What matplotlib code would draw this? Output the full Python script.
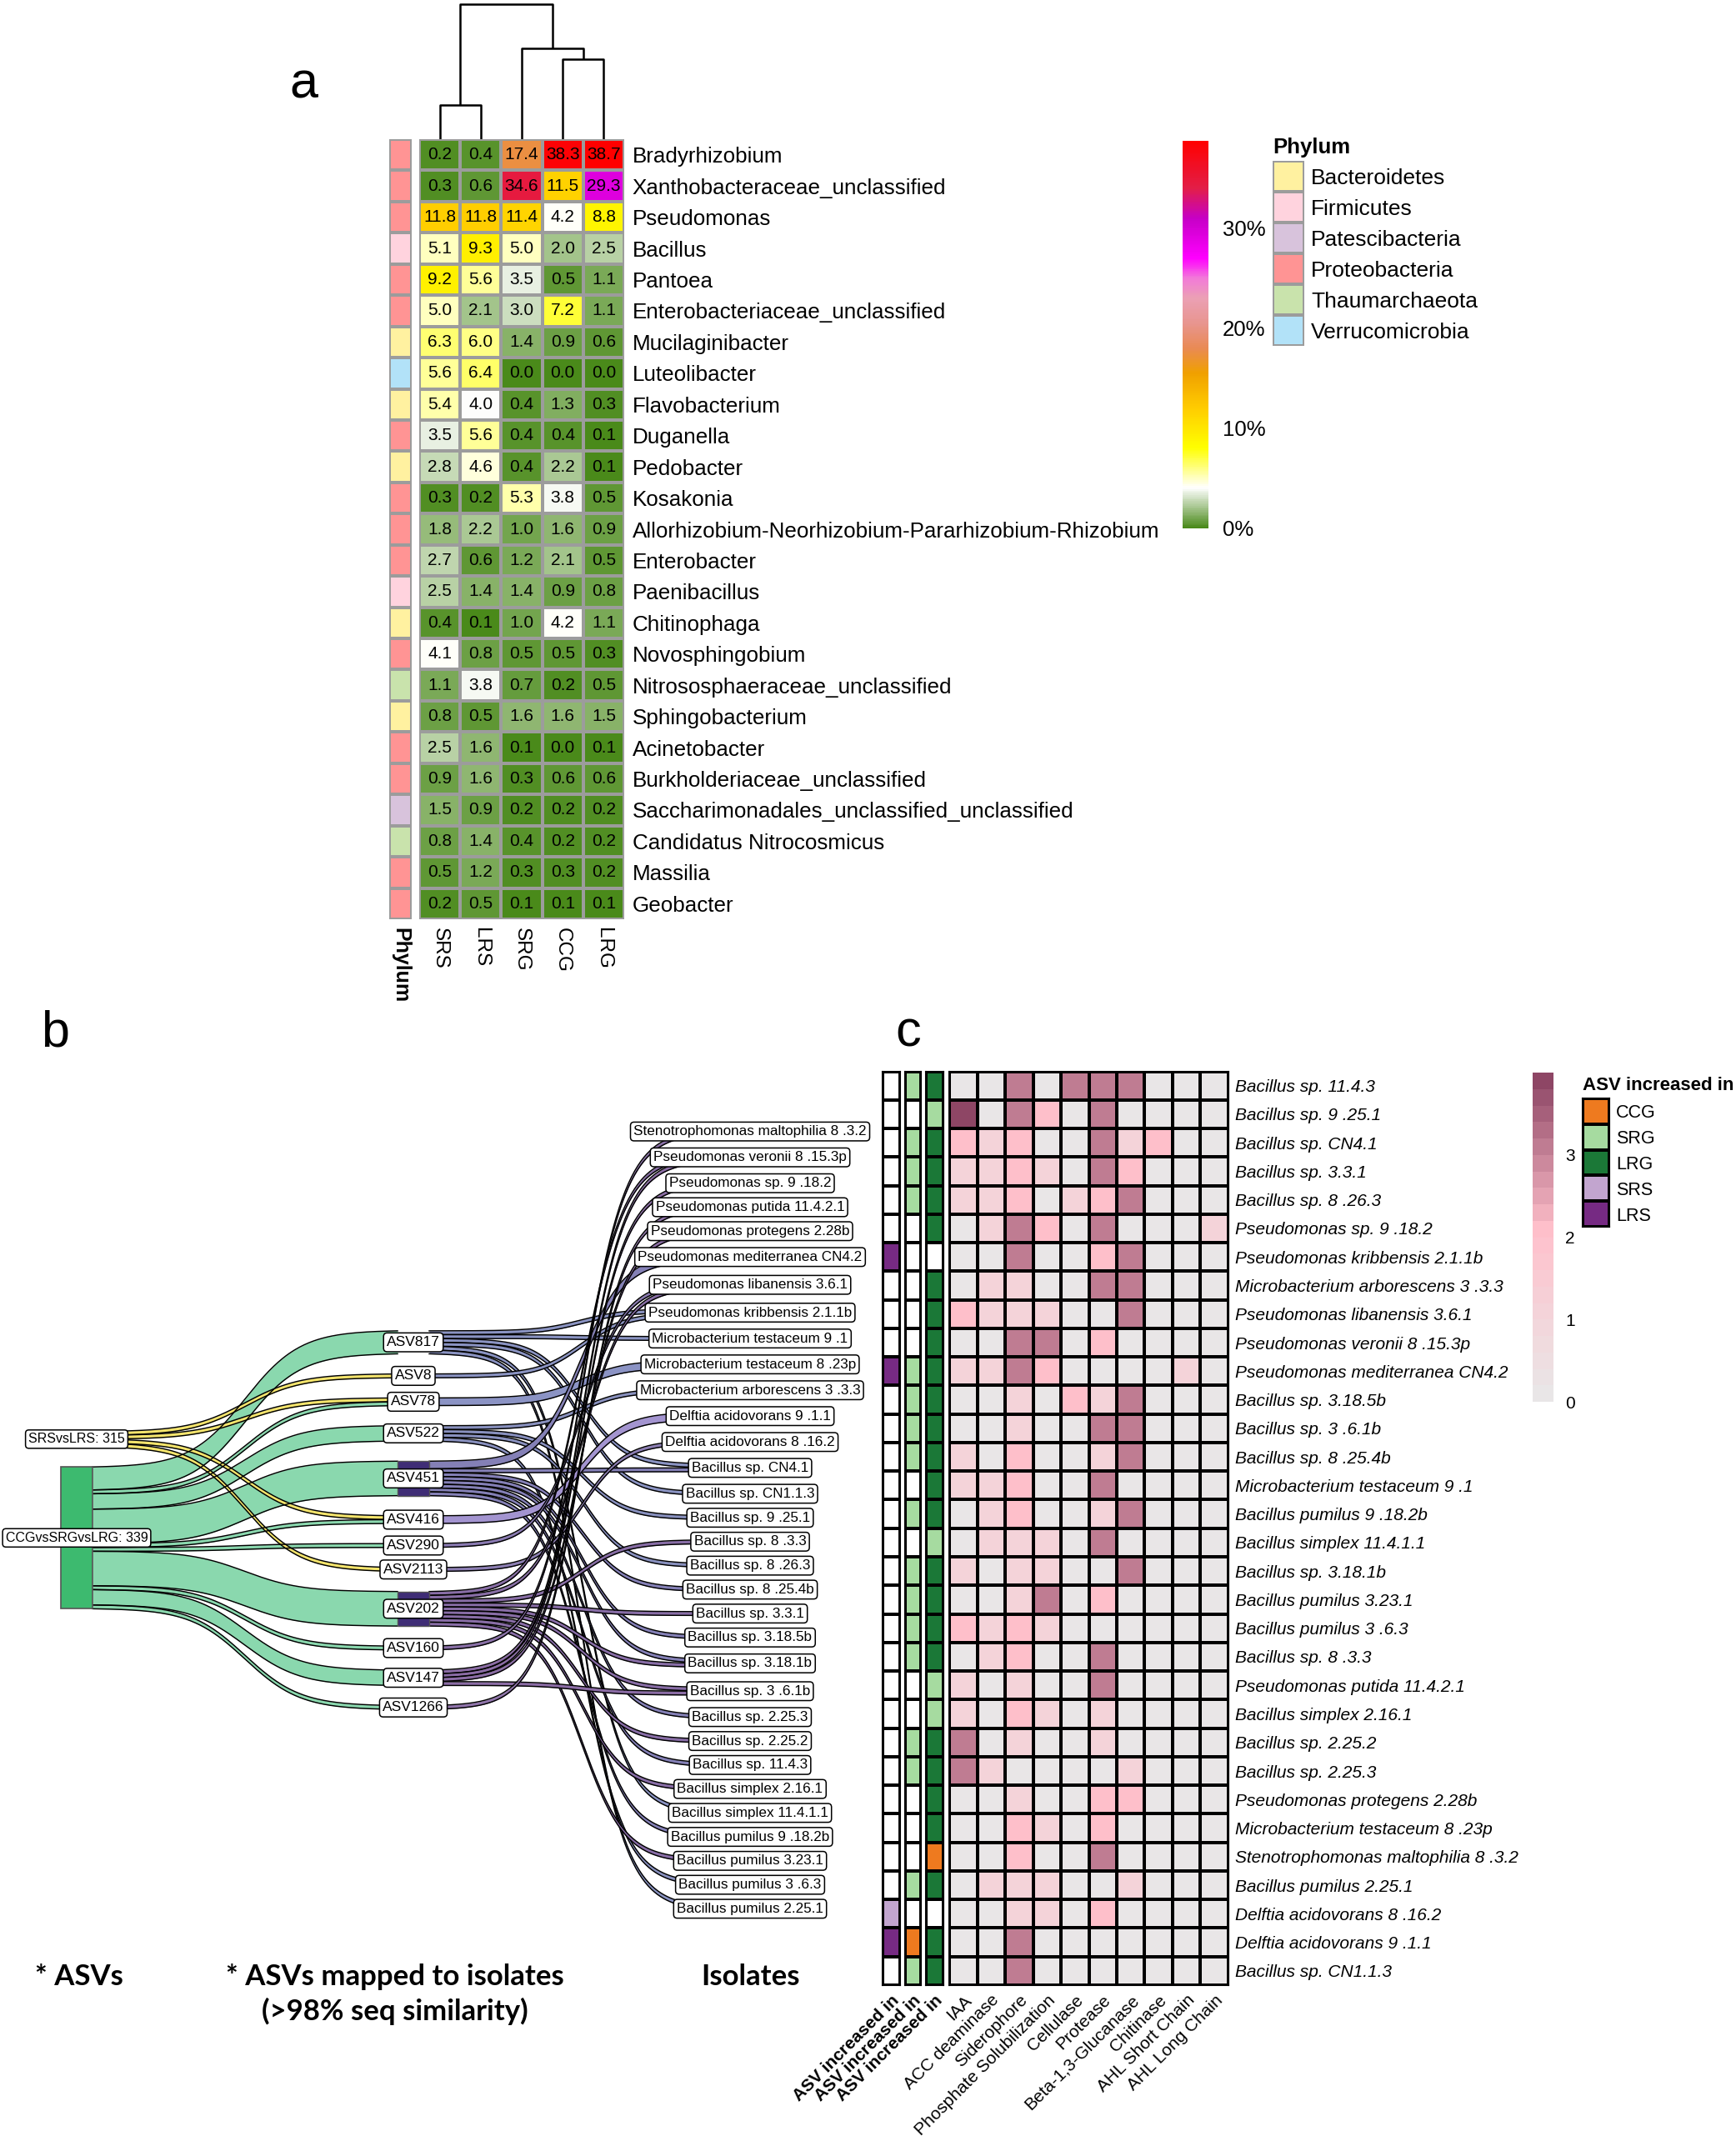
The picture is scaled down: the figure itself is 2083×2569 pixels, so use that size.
import numpy as np
import matplotlib
matplotlib.use('Agg')
import matplotlib.pyplot as plt
from matplotlib.colors import LinearSegmentedColormap, ListedColormap, Normalize
from matplotlib.patches import Rectangle
import matplotlib.colorbar as mcolorbar

plt.rcParams['font.family'] = ['Liberation Sans', 'DejaVu Sans']

# ---------------- Panel a data ----------------
genera = ['Bradyrhizobium', 'Xanthobacteraceae_unclassified', 'Pseudomonas', 'Bacillus', 'Pantoea',
          'Enterobacteriaceae_unclassified', 'Mucilaginibacter', 'Luteolibacter', 'Flavobacterium', 'Duganella',
          'Pedobacter', 'Kosakonia', 'Allorhizobium-Neorhizobium-Pararhizobium-Rhizobium', 'Enterobacter',
          'Paenibacillus', 'Chitinophaga', 'Novosphingobium', 'Nitrososphaeraceae_unclassified',
          'Sphingobacterium', 'Acinetobacter', 'Burkholderiaceae_unclassified',
          'Saccharimonadales_unclassified_unclassified', 'Candidatus Nitrocosmicus', 'Massilia', 'Geobacter']
samples = ['SRS', 'LRS', 'SRG', 'CCG', 'LRG']
abund_SRS = [0.2, 0.3, 11.8, 5.1, 9.2, 5.0, 6.3, 5.6, 5.4, 3.5, 2.8, 0.3, 1.8, 2.7, 2.5, 0.4, 4.1, 1.1, 0.8, 2.5, 0.9, 1.5, 0.8, 0.5, 0.2]
abund_LRS = [0.4, 0.6, 11.8, 9.3, 5.6, 2.1, 6.0, 6.4, 4.0, 5.6, 4.6, 0.2, 2.2, 0.6, 1.4, 0.1, 0.8, 3.8, 0.5, 1.6, 1.6, 0.9, 1.4, 1.2, 0.5]
abund_SRG = [17.4, 34.6, 11.4, 5.0, 3.5, 3.0, 1.4, 0.0, 0.4, 0.4, 0.4, 5.3, 1.0, 1.2, 1.4, 1.0, 0.5, 0.7, 1.6, 0.1, 0.3, 0.2, 0.4, 0.3, 0.1]
abund_CCG = [38.3, 11.5, 4.2, 2.0, 0.5, 7.2, 0.9, 0.0, 1.3, 0.4, 2.2, 3.8, 1.6, 2.1, 0.9, 4.2, 0.5, 0.2, 1.6, 0.0, 0.6, 0.2, 0.2, 0.3, 0.1]
abund_LRG = [38.7, 29.3, 8.8, 2.5, 1.1, 1.1, 0.6, 0.0, 0.3, 0.1, 0.1, 0.5, 0.9, 0.5, 0.8, 1.1, 0.3, 0.5, 1.5, 0.1, 0.6, 0.2, 0.2, 0.2, 0.1]
genus_phylum = ['Proteobacteria', 'Proteobacteria', 'Proteobacteria', 'Firmicutes', 'Proteobacteria',
                'Proteobacteria', 'Bacteroidetes', 'Verrucomicrobia', 'Bacteroidetes', 'Proteobacteria',
                'Bacteroidetes', 'Proteobacteria', 'Proteobacteria', 'Proteobacteria', 'Firmicutes',
                'Bacteroidetes', 'Proteobacteria', 'Thaumarchaeota', 'Bacteroidetes', 'Proteobacteria',
                'Proteobacteria', 'Patescibacteria', 'Thaumarchaeota', 'Proteobacteria', 'Proteobacteria']
phyla = ['Bacteroidetes', 'Firmicutes', 'Patescibacteria', 'Proteobacteria', 'Thaumarchaeota', 'Verrucomicrobia']
phylum_colors = ['#FFF1A0', '#FFD3DE', '#D8C3DC', '#FF9494', '#C9E3AC', '#B2E2F8']
# dendrogram over samples (scipy-like linkage: a, b, height)
dendro_links = [[0, 1, 0.245], [3, 4, 0.575], [2, 6, 0.65], [5, 7, 0.972]]
abund_cbar_ticks = [0, 10, 20, 30]

# ---------------- Panel b data ----------------
b_comparisons = ['SRSvsLRS: 315', 'CCGvsSRGvsLRG: 339']
b_asvs = ['ASV817', 'ASV8', 'ASV78', 'ASV522', 'ASV451', 'ASV416', 'ASV290', 'ASV2113',
          'ASV202', 'ASV160', 'ASV147', 'ASV1266']
b_isolates = ['Stenotrophomonas maltophilia 8 .3.2', 'Pseudomonas veronii 8 .15.3p', 'Pseudomonas sp. 9 .18.2',
              'Pseudomonas putida 11.4.2.1', 'Pseudomonas protegens 2.28b', 'Pseudomonas mediterranea CN4.2',
              'Pseudomonas libanensis 3.6.1', 'Pseudomonas kribbensis 2.1.1b', 'Microbacterium testaceum 9 .1',
              'Microbacterium testaceum 8 .23p', 'Microbacterium arborescens 3 .3.3', 'Delftia acidovorans 9 .1.1',
              'Delftia acidovorans 8 .16.2', 'Bacillus sp. CN4.1', 'Bacillus sp. CN1.1.3', 'Bacillus sp. 9 .25.1',
              'Bacillus sp. 8 .3.3', 'Bacillus sp. 8 .26.3', 'Bacillus sp. 8 .25.4b', 'Bacillus sp. 3.3.1',
              'Bacillus sp. 3.18.5b', 'Bacillus sp. 3.18.1b', 'Bacillus sp. 3 .6.1b', 'Bacillus sp. 2.25.3',
              'Bacillus sp. 2.25.2', 'Bacillus sp. 11.4.3', 'Bacillus simplex 2.16.1', 'Bacillus simplex 11.4.1.1',
              'Bacillus pumilus 9 .18.2b', 'Bacillus pumilus 3.23.1', 'Bacillus pumilus 3 .6.3', 'Bacillus pumilus 2.25.1']
# each alluvium: comparison index, ASV, isolate (weight 1 each)
alluvium_comparison = [0, 0, 0, 0] + [1] * 37
alluvium_asv = (['ASV8', 'ASV78', 'ASV416', 'ASV2113']
                + ['ASV817'] * 6 + ['ASV78'] + ['ASV522'] * 4 + ['ASV451'] * 9 + ['ASV416'] + ['ASV290']
                + ['ASV202'] * 9 + ['ASV160'] + ['ASV147'] * 4 + ['ASV1266'])
alluvium_isolate = [
    'Pseudomonas kribbensis 2.1.1b', 'Microbacterium testaceum 8 .23p', 'Delftia acidovorans 9 .1.1',
    'Delftia acidovorans 8 .16.2',
    'Pseudomonas kribbensis 2.1.1b', 'Microbacterium testaceum 9 .1', 'Bacillus sp. CN4.1', 'Bacillus sp. CN1.1.3',
    'Bacillus simplex 11.4.1.1', 'Bacillus pumilus 2.25.1',
    'Microbacterium testaceum 8 .23p',
    'Microbacterium arborescens 3 .3.3', 'Bacillus sp. 9 .25.1', 'Bacillus sp. 8 .26.3', 'Bacillus pumilus 3 .6.3',
    'Pseudomonas mediterranea CN4.2', 'Pseudomonas mediterranea CN4.2', 'Bacillus sp. CN4.1', 'Bacillus sp. 8 .25.4b',
    'Bacillus sp. 3.18.5b', 'Bacillus sp. 3.18.1b', 'Bacillus sp. 2.25.3', 'Bacillus sp. 11.4.3',
    'Bacillus pumilus 9 .18.2b',
    'Delftia acidovorans 9 .1.1',
    'Pseudomonas libanensis 3.6.1',
    'Pseudomonas veronii 8 .15.3p', 'Pseudomonas libanensis 3.6.1', 'Bacillus sp. 8 .3.3', 'Bacillus sp. 3.3.1',
    'Bacillus sp. 3.18.1b', 'Bacillus sp. 3 .6.1b', 'Bacillus sp. 2.25.2', 'Bacillus simplex 2.16.1',
    'Bacillus pumilus 3.23.1',
    'Stenotrophomonas maltophilia 8 .3.2',
    'Pseudomonas veronii 8 .15.3p', 'Pseudomonas sp. 9 .18.2', 'Pseudomonas protegens 2.28b', 'Bacillus sp. 3 .6.1b',
    'Pseudomonas putida 11.4.2.1']
comparison_colors = ['#F4E46C', '#8AD8AE']
asv_flow_colors = ['#8A93C2', '#8A93C2', '#8B93C4', '#8890BE', '#8480B6', '#A394D0', '#8A7AB2', '#8C7EB3',
                   '#886DA6', '#8A70A8', '#8B6CA5', '#9074AB']
asv_stratum_colors = ['none', 'none', 'none', 'none', '#3F2D76', 'none', 'none', 'none',
                      '#3F2D76', 'none', 'none', 'none']

# ---------------- Panel c data ----------------
isolates_c = ['Bacillus sp. 11.4.3', 'Bacillus sp. 9 .25.1', 'Bacillus sp. CN4.1', 'Bacillus sp. 3.3.1',
              'Bacillus sp. 8 .26.3', 'Pseudomonas sp. 9 .18.2', 'Pseudomonas kribbensis 2.1.1b',
              'Microbacterium arborescens 3 .3.3', 'Pseudomonas libanensis 3.6.1', 'Pseudomonas veronii 8 .15.3p',
              'Pseudomonas mediterranea CN4.2', 'Bacillus sp. 3.18.5b', 'Bacillus sp. 3 .6.1b', 'Bacillus sp. 8 .25.4b',
              'Microbacterium testaceum 9 .1', 'Bacillus pumilus 9 .18.2b', 'Bacillus simplex 11.4.1.1',
              'Bacillus sp. 3.18.1b', 'Bacillus pumilus 3.23.1', 'Bacillus pumilus 3 .6.3', 'Bacillus sp. 8 .3.3',
              'Pseudomonas putida 11.4.2.1', 'Bacillus simplex 2.16.1', 'Bacillus sp. 2.25.2', 'Bacillus sp. 2.25.3',
              'Pseudomonas protegens 2.28b', 'Microbacterium testaceum 8 .23p', 'Stenotrophomonas maltophilia 8 .3.2',
              'Bacillus pumilus 2.25.1', 'Delftia acidovorans 8 .16.2', 'Delftia acidovorans 9 .1.1',
              'Bacillus sp. CN1.1.3']
traits = ['IAA', 'ACC deaminase', 'Siderophore', 'Phosphate Solubilization', 'Cellulase', 'Protease',
          'Beta-1,3-Glucanase', 'Chitinase', 'AHL Short Chain', 'AHL Long Chain']
trait_scores = [
    [0, 0, 3, 0, 3, 3, 3, 0, 0, 0],
    [4, 0, 3, 2, 0, 3, 0, 0, 0, 0],
    [2, 1, 2, 0, 0, 3, 1, 2, 0, 0],
    [1, 1, 2, 1, 0, 3, 2, 0, 0, 0],
    [1, 1, 2, 0, 1, 2, 3, 0, 0, 0],
    [0, 1, 3, 2, 0, 3, 0, 0, 0, 1],
    [0, 0, 3, 0, 0, 2, 3, 0, 0, 0],
    [0, 1, 1, 0, 0, 3, 3, 0, 0, 0],
    [2, 1, 1, 1, 0, 0, 3, 0, 0, 0],
    [0, 0, 3, 3, 0, 2, 0, 0, 0, 0],
    [1, 1, 3, 2, 0, 0, 0, 0, 1, 0],
    [0, 0, 1, 0, 2, 1, 3, 0, 0, 0],
    [0, 0, 1, 0, 0, 3, 3, 0, 0, 0],
    [1, 0, 2, 0, 0, 1, 3, 0, 0, 0],
    [1, 1, 2, 0, 0, 3, 0, 0, 0, 0],
    [0, 1, 2, 0, 0, 1, 3, 0, 0, 0],
    [0, 1, 1, 1, 0, 3, 0, 0, 0, 0],
    [1, 0, 1, 1, 0, 0, 3, 0, 0, 0],
    [0, 0, 1, 3, 0, 2, 0, 0, 0, 0],
    [2, 1, 2, 1, 0, 0, 0, 0, 0, 0],
    [0, 1, 2, 0, 0, 3, 0, 0, 0, 0],
    [1, 0, 1, 0, 0, 3, 0, 0, 0, 0],
    [1, 0, 2, 1, 0, 1, 0, 0, 0, 0],
    [3, 0, 1, 0, 0, 1, 0, 0, 0, 0],
    [3, 1, 0, 0, 0, 0, 1, 0, 0, 0],
    [0, 0, 1, 0, 0, 2, 2, 0, 0, 0],
    [0, 0, 2, 1, 0, 2, 0, 0, 0, 0],
    [0, 0, 2, 0, 0, 3, 0, 0, 0, 0],
    [0, 1, 1, 1, 0, 0, 1, 0, 0, 0],
    [0, 0, 1, 1, 0, 2, 0, 0, 0, 0],
    [0, 0, 3, 0, 0, 0, 0, 0, 0, 0],
    [0, 0, 3, 0, 0, 0, 0, 0, 0, 0]]
asv_inc_1 = ['', '', '', '', '', '', 'LRS', '', '', '', 'LRS', '', '', '', '', '',
             '', '', '', '', '', '', '', '', '', '', '', '', '', 'SRS', 'LRS', '']
asv_inc_2 = ['SRG', '', 'SRG', 'SRG', 'SRG', '', '', '', '', '', 'SRG', 'SRG', 'SRG', 'SRG', '', 'SRG',
             '', 'SRG', 'SRG', 'SRG', 'SRG', '', '', 'SRG', 'SRG', '', '', '', 'SRG', '', 'CCG', 'SRG']
asv_inc_3 = ['LRG', 'SRG', 'LRG', 'LRG', 'LRG', 'LRG', '', 'LRG', 'LRG', 'LRG', 'LRG', 'LRG', 'LRG', 'LRG', 'LRG', 'LRG',
             'SRG', 'LRG', 'LRG', 'LRG', 'LRG', 'SRG', 'SRG', 'LRG', 'LRG', 'LRG', 'LRG', 'CCG', 'LRG', '', 'LRG', 'LRG']
inc_levels = ['CCG', 'SRG', 'LRG', 'SRS', 'LRS']
inc_colors = ['#EE7A1F', '#A6DBA0', '#1B7837', '#C2A5CF', '#762A83']
trait_cbar_ticks = [0, 1, 2, 3]

# ---------------- Figure ----------------
W, H = 2083, 2569
fig = plt.figure(figsize=(W / 100, H / 100), dpi=100)


def px_axes(x0, y0, x1, y1):
    return fig.add_axes([x0 / W, 1 - y1 / H, (x1 - x0) / W, (y1 - y0) / H])


def clean(ax):
    for s in ax.spines.values():
        s.set_visible(False)


# ======== Panel a ========
a_stops = [(0, '#4A8A1A'), (4, '#FFFFFF'), (8, '#FFFF00'), (12, '#FFCC00'), (15.5, '#F0A000'),
           (18, '#E98A55'), (20.5, '#E8958F'), (23, '#EBA0B4'), (25, '#F27AD8'), (27, '#FF00FF'),
           (31, '#C600C6'), (34, '#E21E48'), (38.7, '#FF0000')]
amax = 38.7
cmap_a = LinearSegmentedColormap.from_list('abund', [(v / amax, c) for v, c in a_stops])

M = np.array([abund_SRS, abund_LRS, abund_SRG, abund_CCG, abund_LRG]).T
ax = px_axes(503, 167, 749, 1103)
ax.pcolormesh(M, cmap=cmap_a, vmin=0, vmax=amax, edgecolors='#9C9C9C', linewidth=1.6)
ax.set_xlim(0, 5)
ax.set_ylim(len(genera), 0)
for i in range(M.shape[0]):
    for j in range(M.shape[1]):
        ax.text(j + 0.5, i + 0.5, f'{M[i, j]:.1f}', ha='center', va='center', fontsize=15)
ax.yaxis.tick_right()
ax.set_yticks(np.arange(len(genera)) + 0.5)
ax.set_yticklabels(genera, fontsize=18.7)
ax.set_xticks(np.arange(5) + 0.5)
ax.set_xticklabels(samples, rotation=-90, fontsize=17.5)
ax.tick_params(length=0, pad=7)
clean(ax)

# phylum annotation column
axp = px_axes(467, 167, 494, 1103)
codes = np.array([phyla.index(p) for p in genus_phylum])[:, None]
axp.pcolormesh(codes, cmap=ListedColormap(phylum_colors), vmin=-0.5, vmax=len(phyla) - 0.5,
               edgecolors='#9C9C9C', linewidth=1.6)
axp.set_ylim(len(genera), 0)
axp.set_yticks([])
axp.set_xticks([0.5])
axp.set_xticklabels(['Phylum'], rotation=-90, fontsize=18, fontweight='bold')
axp.tick_params(length=0, pad=7)
clean(axp)

# dendrogram
axd = px_axes(503, 0, 749, 167)
pos = {i: i + 0.5 for i in range(5)}
hgt = {i: 0.0 for i in range(5)}
for k, (a_, b_, h) in enumerate(dendro_links):
    nid = 5 + k
    xa, xb = pos[a_], pos[b_]
    axd.plot([xa, xa, xb, xb], [hgt[a_], h, h, hgt[b_]], color='black', lw=1.8, solid_capstyle='butt')
    pos[nid] = (xa + xb) / 2
    hgt[nid] = h
axd.set_xlim(0, 5)
axd.set_ylim(0, 1)
axd.axis('off')

# colorbar a
cax = px_axes(1419, 169, 1450, 634)
cb = mcolorbar.ColorbarBase(cax, cmap=cmap_a, norm=Normalize(0, amax), orientation='vertical')
cb.set_ticks(abund_cbar_ticks)
cb.set_ticklabels([f'{t}%' for t in abund_cbar_ticks])
cb.outline.set_visible(False)
cax.tick_params(length=0, labelsize=18.5, pad=12)

# phylum legend
fig.text(1527 / W, 1 - 177 / H, 'Phylum', fontsize=18.5, fontweight='bold', ha='left', va='center')
axl = px_axes(1527, 193, 1565, 415)
axl.pcolormesh(np.arange(len(phyla))[:, None], cmap=ListedColormap(phylum_colors), vmin=-0.5,
               vmax=len(phyla) - 0.5, edgecolors='#9C9C9C', linewidth=1.6)
axl.set_ylim(len(phyla), 0)
axl.yaxis.tick_right()
axl.set_yticks(np.arange(len(phyla)) + 0.5)
axl.set_yticklabels(phyla, fontsize=19)
axl.set_xticks([])
axl.tick_params(length=0, pad=6)
clean(axl)

# ======== Panel b ========
axb = px_axes(0, 1290, 1000, 2330)
unit_px = 4.6
x0_px = 92
step_px = 404
axb.set_xlim(-x0_px / step_px, (1000 - x0_px) / step_px)
axb.set_ylim((2330 - 1824) / unit_px, -(1824 - 1290) / unit_px)
axb.axis('off')
gap = 5.25
hw = 0.047


def stack(weights):
    total = sum(weights) + gap * (len(weights) - 1)
    tops, y = [], -total / 2
    for w in weights:
        tops.append(y)
        y += w + gap
    return tops


def sig(t, k):
    return 0.5 + 0.5 * np.tanh(k * (t - 0.5)) / np.tanh(k / 2)


def flow(xa, xb, ya, yb, w, fc, k, z):
    xs = np.linspace(xa, xb, 200)
    s = sig((xs - xa) / (xb - xa), k)
    top = ya + (yb - ya) * s
    axb.fill_between(xs, top, top + w, color=fc, lw=0, zorder=z)
    axb.plot(xs, top, color='black', lw=1.05, zorder=z + 0.01)
    axb.plot(xs, top + w, color='black', lw=1.05, zorder=z + 0.01)


ai = [b_asvs.index(a) for a in alluvium_asv]
ii = [b_isolates.index(s) for s in alluvium_isolate]
ci = alluvium_comparison
w_comp = [sum(1 for c in ci if c == k) for k in range(len(b_comparisons))]
w_asv = [sum(1 for a in ai if a == k) for k in range(len(b_asvs))]
w_iso = [sum(1 for s in ii if s == k) for k in range(len(b_isolates))]
top_comp = stack(w_comp)
top_asv = stack(w_asv)
top_iso = stack(w_iso)

# stage 1: comparison -> ASV (aggregated)
s1 = {}
for c, a in zip(ci, ai):
    s1[(c, a)] = s1.get((c, a), 0) + 1
off_c = {k: 0.0 for k in range(len(b_comparisons))}
start1 = {}
for (c, a) in sorted(s1, key=lambda p: (p[0], p[1])):
    start1[(c, a)] = top_comp[c] + off_c[c]
    off_c[c] += s1[(c, a)]
off_a = {k: 0.0 for k in range(len(b_asvs))}
for (c, a) in sorted(s1, key=lambda p: (p[1], p[0])):
    ya = start1[(c, a)]
    yb = top_asv[a] + off_a[a]
    off_a[a] += s1[(c, a)]
    flow(0 + hw, 1 - hw, ya, yb, s1[(c, a)], comparison_colors[c], 5.5, 2)

# stage 2: ASV -> isolate (aggregated)
s2 = {}
for a, s in zip(ai, ii):
    s2[(a, s)] = s2.get((a, s), 0) + 1
off_a2 = {k: 0.0 for k in range(len(b_asvs))}
start2 = {}
for (a, s) in sorted(s2, key=lambda p: (p[0], p[1])):
    start2[(a, s)] = top_asv[a] + off_a2[a]
    off_a2[a] += s2[(a, s)]
off_i = {k: 0.0 for k in range(len(b_isolates))}
end2 = {}
for (a, s) in sorted(s2, key=lambda p: (p[1], p[0])):
    end2[(a, s)] = top_iso[s] + off_i[s]
    off_i[s] += s2[(a, s)]
for z, (a, s) in enumerate(sorted(s2, key=lambda p: (p[0], p[1]))):
    flow(1 + hw, 2 - hw, start2[(a, s)], end2[(a, s)], s2[(a, s)], asv_flow_colors[a], 7, 3 + z * 0.02)

# strata
axb.add_patch(Rectangle((-hw, top_comp[1]), 2 * hw, w_comp[1], fc='#3DBA6F', ec='#555555', lw=1.2, zorder=6))
axb.add_patch(Rectangle((-hw, top_comp[0]), 2 * hw, w_comp[0], fc=comparison_colors[0], ec='#555555', lw=1.0, zorder=6))
for k in range(len(b_asvs)):
    if asv_stratum_colors[k] != 'none':
        axb.add_patch(Rectangle((1 - hw, top_asv[k]), 2 * hw, w_asv[k], fc=asv_stratum_colors[k],
                                ec='#555555', lw=1.0, zorder=6))

box = dict(boxstyle='round,pad=0.22,rounding_size=0.25', fc='white', ec='black', lw=1.1)
for k, name in enumerate(b_comparisons):
    axb.text(0, top_comp[k] + w_comp[k] / 2, name, ha='center', va='center', fontsize=11.5, bbox=box, zorder=10)
for k, name in enumerate(b_asvs):
    axb.text(1, top_asv[k] + w_asv[k] / 2, name, ha='center', va='center', fontsize=12.5, bbox=box, zorder=10)
for k, name in enumerate(b_isolates):
    axb.text(2, top_iso[k] + w_iso[k] / 2, name, ha='center', va='center', fontsize=12.3, bbox=box, zorder=10)

bold_font = ['Lato', 'DejaVu Sans']
fig.text(95 / W, 1 - 2372 / H, '* ASVs', ha='center', va='center', fontsize=25, fontweight='bold', family=bold_font)
fig.text(474 / W, 1 - 2393 / H, '* ASVs mapped to isolates\n(>98% seq similarity)', ha='center', va='center',
         multialignment='center', fontsize=25, fontweight='bold', family=bold_font, linespacing=1.3)
fig.text(901 / W, 1 - 2372 / H, 'Isolates', ha='center', va='center', fontsize=25, fontweight='bold', family=bold_font)

# ======== Panel c ========
base_c = LinearSegmentedColormap.from_list('trait', [(0, '#E8E8E8'), (0.52, '#FFC0CB'), (1, '#884060')])
cmap_c = ListedColormap(base_c((np.arange(20) + 0.5) / 20))
T = np.array(trait_scores, dtype=float)
nrow = len(isolates_c)
top_c, bot_c = 1285.5, 2382

ann_cmap = ListedColormap(['#FFFFFF'] + inc_colors)
for (x0, x1), col in zip([(1059, 1080), (1086, 1105), (1111, 1132)], [asv_inc_1, asv_inc_2, asv_inc_3]):
    axa = px_axes(x0, top_c, x1, bot_c)
    codes = np.array([0 if v == '' else inc_levels.index(v) + 1 for v in col])[:, None]
    axa.pcolormesh(codes, cmap=ann_cmap, vmin=-0.5, vmax=len(inc_levels) + 0.5, edgecolors='black', linewidth=1.5)
    axa.set_ylim(nrow, 0)
    axa.set_yticks([])
    axa.set_xticks([0.5])
    axa.set_xticklabels(['ASV increased in'], rotation=45, ha='right', va='top', rotation_mode='anchor',
                        fontsize=15, fontweight='bold')
    axa.tick_params(length=0, pad=6)
    for s in axa.spines.values():
        s.set_linewidth(1.5)

axc = px_axes(1139, top_c, 1474, bot_c)
axc.pcolormesh(T, cmap=cmap_c, vmin=0, vmax=4, edgecolors='black', linewidth=1.5)
axc.set_ylim(nrow, 0)
axc.set_xlim(0, len(traits))
axc.yaxis.tick_right()
axc.set_yticks(np.arange(nrow) + 0.5)
axc.set_yticklabels(isolates_c, fontsize=15, fontstyle='italic')
axc.set_xticks(np.arange(len(traits)) + 0.5)
axc.set_xticklabels(traits, rotation=45, ha='right', va='top', rotation_mode='anchor', fontsize=15)
axc.tick_params(length=0, pad=6)
for s in axc.spines.values():
    s.set_linewidth(1.5)

caxc = px_axes(1839, 1287, 1864, 1682)
cbc = mcolorbar.ColorbarBase(caxc, cmap=cmap_c, norm=Normalize(0, 4), orientation='vertical')
cbc.set_ticks(trait_cbar_ticks)
cbc.set_ticklabels([str(t) for t in trait_cbar_ticks])
cbc.outline.set_visible(False)
caxc.tick_params(length=0, labelsize=15, pad=10)

fig.text(1899 / W, 1 - 1303 / H, 'ASV increased in', fontsize=16, fontweight='bold', ha='left', va='center')
axlc = px_axes(1899, 1318, 1931, 1472)
axlc.pcolormesh(np.arange(len(inc_levels))[:, None], cmap=ListedColormap(inc_colors), vmin=-0.5,
                vmax=len(inc_levels) - 0.5, edgecolors='black', linewidth=1.5)
axlc.set_ylim(len(inc_levels), 0)
axlc.yaxis.tick_right()
axlc.set_yticks(np.arange(len(inc_levels)) + 0.5)
axlc.set_yticklabels(inc_levels, fontsize=15.5)
axlc.set_xticks([])
axlc.tick_params(length=0, pad=6)
for s in axlc.spines.values():
    s.set_linewidth(1.5)

# panel letters
fig.text(364 / W, 1 - 102 / H, 'a', fontsize=44, ha='center', va='center')
fig.text(66 / W, 1 - 1240 / H, 'b', fontsize=44, ha='center', va='center')
fig.text(1090 / W, 1 - 1240 / H, 'c', fontsize=44, ha='center', va='center')

fig.savefig('out.png', dpi=100)
